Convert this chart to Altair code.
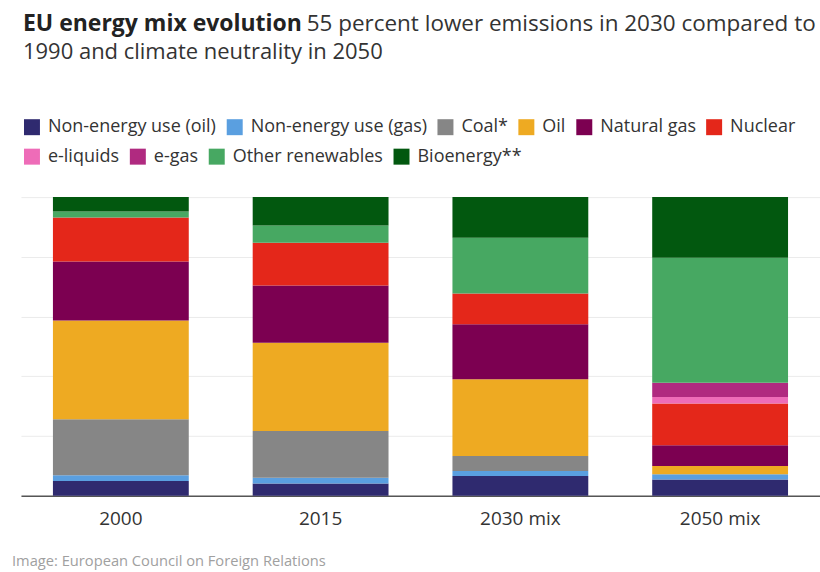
import altair as alt
import pandas as pd

periods = ["2000", "2015", "2030 mix", "2050 mix"]
sources = [
    "Non-energy use (oil)", "Non-energy use (gas)", "Coal*", "Oil",
    "Natural gas", "Nuclear", "e-liquids", "e-gas",
    "Other renewables", "Bioenergy**",
]
colors = [
    "#2f2a6f", "#5a9fe0", "#868686", "#eeaa22", "#7c0051",
    "#e4271a", "#ee6cb8", "#b02a80", "#47a862", "#02580f",
]

# Share of the energy mix (%), one list per source, ordered like `periods`
non_energy_oil = [4.9, 4.1, 6.6, 5.4]
non_energy_gas = [2.0, 1.9, 1.7, 1.8]
coal = [18.7, 15.7, 5.0, 0.0]
oil = [33.1, 29.5, 25.7, 2.8]
natural_gas = [19.7, 19.2, 18.4, 6.9]
nuclear = [14.8, 14.3, 10.3, 14.0]
e_liquids = [0.0, 0.0, 0.0, 2.2]
e_gas = [0.0, 0.0, 0.0, 4.7]
other_renewables = [2.0, 5.8, 18.7, 41.9]
bioenergy = [4.8, 9.5, 13.6, 20.3]

series = [
    non_energy_oil, non_energy_gas, coal, oil, natural_gas,
    nuclear, e_liquids, e_gas, other_renewables, bioenergy,
]

rows = []
for idx, (name, values) in enumerate(zip(sources, series)):
    for period, value in zip(periods, values):
        rows.append({"period": period, "source": name, "share": value, "idx": idx})
df = pd.DataFrame(rows)

FONT = "Open Sans"
FIRST_ROW = 6  # legend entries shown on the first legend line

x_enc = alt.X(
    "period:N",
    sort=periods,
    scale=alt.Scale(paddingInner=0.32, paddingOuter=0.16),
    axis=alt.Axis(
        title=None, labelAngle=0, ticks=False, grid=False,
        domainColor="#555555", domainWidth=1.5,
        labelFont=FONT, labelFontSize=19, labelColor="#333333",
        labelPadding=14,
    ),
)
y_enc = alt.Y(
    "y0:Q",
    scale=alt.Scale(domain=[0, 100], nice=False),
    axis=alt.Axis(
        title=None, labels=False, ticks=False, domain=False,
        values=[0, 20, 40, 60, 80, 100], gridColor="#ebebeb",
    ),
)


def legend(y):
    return alt.Legend(
        title=None, orient="none", legendX=2, legendY=y,
        direction="horizontal", symbolType="square", symbolSize=256,
        symbolStrokeWidth=0, labelFont=FONT, labelFontSize=18,
        labelColor="#333333", labelLimit=400, labelOffset=7,
        columnPadding=9, padding=0,
    )


# one stack over all sources; the two bar layers only split the legend in two lines
stacked = alt.Chart(df).transform_stack(
    stack="share",
    groupby=["period"],
    sort=[alt.SortField("idx", order="ascending")],
    as_=["y0", "y1"],
)

bars_top_legend = stacked.transform_filter(
    alt.datum.idx < FIRST_ROW
).mark_bar().encode(
    x=x_enc,
    y=y_enc,
    y2="y1:Q",
    color=alt.Color(
        "source:N",
        scale=alt.Scale(domain=sources[:FIRST_ROW], range=colors[:FIRST_ROW]),
        legend=legend(-79),
    ),
)

bars_second_legend = stacked.transform_filter(
    alt.datum.idx >= FIRST_ROW
).mark_bar().encode(
    x=x_enc,
    y=y_enc,
    y2="y1:Q",
    fill=alt.Fill(
        "source:N",
        scale=alt.Scale(domain=sources[FIRST_ROW:], range=colors[FIRST_ROW:]),
        legend=legend(-49.5),
    ),
)


def label(text, x, y, size, weight="normal", color="#333333", baseline="alphabetic"):
    return alt.Chart(pd.DataFrame({"t": [text]})).mark_text(
        align="left", baseline=baseline, font=FONT, fontSize=size,
        fontWeight=weight, color=color,
    ).encode(text="t:N", x=alt.value(x), y=alt.value(y))


title_bold = label("EU energy mix evolution", 2, -166, 23, weight="bold", color="#222222")
title_rest = label("55 percent lower emissions in 2030 compared to", 286, -166, 22.5)
title_line2 = label("1990 and climate neutrality in 2050", 2, -138, 22)
footer = label("Image: European Council on Foreign Relations", -9, 365, 14.7,
               color="#a0a0a0", baseline="middle")

chart = alt.layer(
    bars_top_legend, bars_second_legend, title_bold, title_rest, title_line2, footer
).properties(
    width=800,
    height=299,
    autosize=alt.AutoSizeParams(type="none"),
    padding={"left": 21, "top": 197, "right": 0, "bottom": 76},
).configure_view(stroke=None)

chart.save("out.html", embed_options={"renderer": "svg", "actions": False})
